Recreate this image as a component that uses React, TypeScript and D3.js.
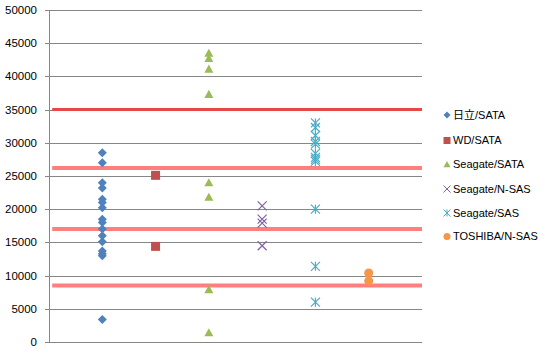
import { useRef, useEffect } from "react";
import * as d3 from "d3";

const W = 549;
const H = 354;
const margin = { top: 10, right: 127, bottom: 12, left: 49 };

const seriesNames = ["日立/SATA", "WD/SATA", "Seagate/SATA", "Seagate/N-SAS", "Seagate/SAS", "TOSHIBA/N-SAS"];
const seriesColors = ["#4F81BD", "#C0504D", "#9BBB59", "#8064A2", "#4BACC6", "#F79646"];
const seriesShapes = ["diamond", "square", "triangle", "cross", "star", "circle"];

const hitachiSata = [28500, 27000, 24000, 23200, 21500, 21000, 20200, 18500, 18000, 17000, 16000, 15100, 13700, 13300, 13000, 3400];
const wdSata = [25100, 14400];
const seagateSata = [43500, 42700, 41100, 37300, 24000, 21800, 7900, 1400];
const seagateNSas = [20500, 18500, 17900, 14500];
const seagateSas = [33000, 32300, 31100, 30200, 29800, 28400, 27800, 27500, 27200, 20000, 11400, 6000];
const toshibaNSas = [10400, 9200];

const seriesValues = [hitachiSata, wdSata, seagateSata, seagateNSas, seagateSas, toshibaNSas];

const yTicks = [0, 5000, 10000, 15000, 20000, 25000, 30000, 35000, 40000, 45000, 50000];
const thresholds = [35000, 26200, 17000, 8500];

function markerPath(shape: string, s: number) {
  const h = s / 2;
  switch (shape) {
    case "diamond":
      return `M0,${-h}L${h},0L0,${h}L${-h},0Z`;
    case "square":
      return `M${-h},${-h}H${h}V${h}H${-h}Z`;
    case "triangle":
      return `M0,${-h}L${h},${h * 0.8}L${-h},${h * 0.8}Z`;
    case "cross":
      return `M${-h},${-h}L${h},${h}M${h},${-h}L${-h},${h}`;
    case "star":
      return `M${-h},${-h}L${h},${h}M${h},${-h}L${-h},${h}M0,${-h}V${h}`;
    default:
      return d3.symbol(d3.symbolCircle, Math.PI * h * h)() || "";
  }
}

const App = () => {
  const svgRef = useRef<SVGSVGElement>(null);

  useEffect(() => {
    const svg = d3.select(svgRef.current);
    svg.selectAll("*").remove();

    const x = d3.scaleLinear().domain([0, 7]).range([margin.left, W - margin.right]);
    const y = d3.scaleLinear().domain([0, 50000]).range([H - margin.bottom, margin.top]);

    // grid lines
    svg.append("g")
      .selectAll("line")
      .data(yTicks)
      .enter()
      .append("line")
      .attr("x1", margin.left - 4)
      .attr("x2", W - margin.right)
      .attr("y1", (d) => Math.round(y(d)) + 0.5)
      .attr("y2", (d) => Math.round(y(d)) + 0.5)
      .style("stroke", "#868686")
      .style("stroke-width", 1);

    svg.append("line")
      .attr("x1", margin.left + 0.5)
      .attr("x2", margin.left + 0.5)
      .attr("y1", y(50000))
      .attr("y2", y(0))
      .style("stroke", "#868686");

    svg.append("g")
      .selectAll("text")
      .data(yTicks)
      .enter()
      .append("text")
      .attr("x", 37)
      .attr("y", (d) => y(d))
      .attr("dy", "0.35em")
      .attr("text-anchor", "end")
      .style("font-family", "'Liberation Sans', Arial, sans-serif")
      .style("font-size", "11.5px")
      .style("fill", "#000")
      .text((d) => d);

    // threshold lines
    svg.append("g")
      .selectAll("line")
      .data(thresholds)
      .enter()
      .append("line")
      .attr("x1", x(0.06))
      .attr("x2", x(7))
      .attr("y1", (d) => y(d))
      .attr("y2", (d) => y(d))
      .style("stroke", (d, i) => (i === 0 ? "#E8474A" : "#FF7F7F"))
      .style("stroke-width", (d, i) => (i === 0 ? 3 : 4));

    // points
    seriesValues.forEach((vals, i) => {
      const shape = seriesShapes[i];
      const line = shape === "cross" || shape === "star";
      svg.append("g")
        .selectAll("path")
        .data(vals)
        .enter()
        .append("path")
        .attr("transform", (d) => `translate(${x(i + 1)},${y(d)})`)
        .attr("d", markerPath(shape, shape === "circle" ? 9 : 9))
        .style("fill", line ? "none" : seriesColors[i])
        .style("stroke", line ? seriesColors[i] : "none")
        .style("stroke-width", 1.2);
    });

    // legend
    const legend = svg.append("g");
    seriesNames.forEach((name, i) => {
      const ly = [115, 140.5, 164.5, 189, 213, 236.5][i];
      const shape = seriesShapes[i];
      const line = shape === "cross" || shape === "star";
      legend.append("path")
        .attr("transform", `translate(447,${ly})`)
        .attr("d", markerPath(shape, 7))
        .style("fill", line ? "none" : seriesColors[i])
        .style("stroke", line ? seriesColors[i] : "none")
        .style("stroke-width", 1);
      legend.append("text")
        .attr("x", 453)
        .attr("y", ly)
        .attr("dy", "0.35em")
        .style("font-family", "'Liberation Sans', Arial, 'Noto Sans CJK JP', sans-serif")
        .style("font-size", "11px")
        .style("fill", "#000")
        .text(name);
    });
  }, []);

  return (
    <svg
      ref={svgRef}
      width={W}
      height={H}
      style={{ position: "absolute", left: 0, top: 0, background: "#fff" }}
    ></svg>
  );
};

export default App;
